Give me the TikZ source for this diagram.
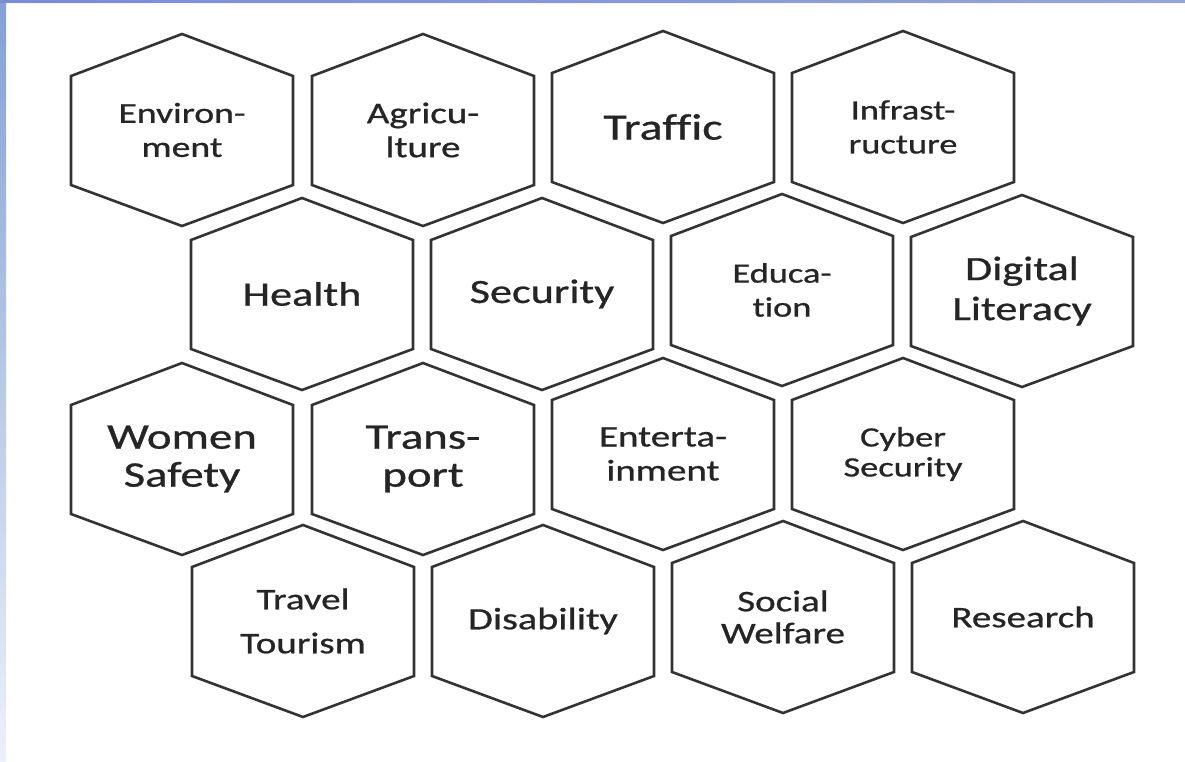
\documentclass[tikz,border=0pt]{standalone}
\usepackage{fontspec}
\setmainfont{Carlito}[Ligatures=NoCommon, FakeBold=0.7]
\definecolor{hexgray}{HTML}{333333}
\definecolor{txtgray}{HTML}{252525}
\definecolor{stripA}{RGB}{132,160,214}
\definecolor{stripB}{RGB}{236,241,250}
\definecolor{topA}{RGB}{122,140,210}
\definecolor{topB}{RGB}{150,165,220}
\tikzset{
  hexline/.style={draw=hexgray, line width=2.6pt, line join=miter},
  hexlabel/.style={align=center, text=txtgray, xscale=1.3, transform shape, inner sep=0pt},
}
% #1 name, #2 x, #3 y, #4 font size, #5 baselineskip, #6 text
\newcommand\hexcell[6]{%
  \draw[hexline, shift={(#2,#3)}] (0,-96) -- (111,-54) -- (111,55) -- (0,96) -- (-111,55) -- (-111,-54) -- cycle;
  \node[hexlabel, font=\fontsize{#4}{#5}\selectfont] (#1) at (#2,#3) {#6};
}
\begin{document}
\begin{tikzpicture}[x=1pt,y=-1pt]
\useasboundingbox (0,0) rectangle (1185,762);
\fill[white] (0,0) rectangle (1185,762);
\shade[top color=stripA, bottom color=stripB] (0,0) rectangle (6,762);
\shade[left color=topA, right color=topB] (0,0) rectangle (1185,2.5);
% row 1
\hexcell{env}{182}{130}{29}{34}{Environ-\\ment}
\hexcell{agr}{423}{130}{30}{34}{Agricu-\\lture}
\hexcell{tra}{663}{127}{37}{40}{Traffic}
\hexcell{inf}{903}{127}{28}{34}{Infrast-\\ructure}
% row 2
\hexcell{hea}{302}{294}{34}{40}{Health}
\hexcell{sec}{542}{294}{34}{40}{Security}
\hexcell{edu}{782}{290}{28}{34}{Educa-\\tion}
\hexcell{dig}{1022}{291}{34}{40}{Digital\\Literacy}
% row 3
\hexcell{wom}{182}{459}{36}{38}{Women\\Safety}
\hexcell{trn}{423}{459}{36}{38}{Trans-\\port}
\hexcell{ent}{663}{454}{30}{34}{Enterta-\\inment}
\hexcell{cyb}{903}{454}{28}{30}{Cyber\\Security}
% row 4
\hexcell{trv}{303}{621}{30}{44}{Travel\\Tourism}
\hexcell{dis}{543}{621}{31}{36}{Disability}
\hexcell{soc}{783}{617}{30}{32}{Social\\Welfare}
\hexcell{res}{1023}{617}{30}{36}{Research}
\end{tikzpicture}
\end{document}
